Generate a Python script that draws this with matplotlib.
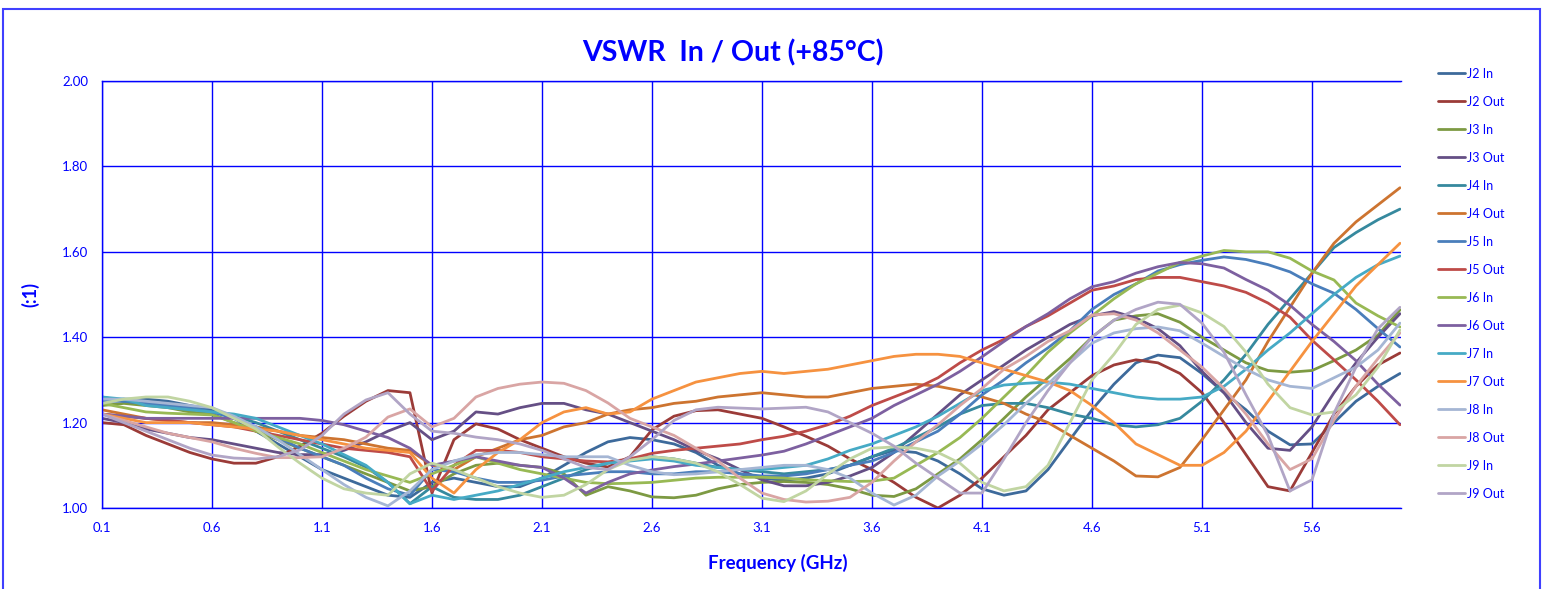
import numpy as np
import matplotlib
matplotlib.use('Agg')
import matplotlib.pyplot as plt
from matplotlib.patches import Rectangle

# Frecuencia (GHz), paso de 0.1
freq = np.round(np.arange(0.1, 6.05, 0.1), 1)

# Valores VSWR (60 puntos por serie)
j2_in = [1.25, 1.255, 1.255, 1.25, 1.24, 1.23, 1.21, 1.18, 1.15, 1.12,
         1.09, 1.07, 1.05, 1.03, 1.025, 1.06, 1.07, 1.06, 1.05, 1.05,
         1.07, 1.10, 1.13, 1.155, 1.165, 1.16, 1.15, 1.13, 1.10, 1.08,
         1.07, 1.065, 1.07, 1.08, 1.10, 1.12, 1.135, 1.13, 1.11, 1.08,
         1.045, 1.03, 1.04, 1.09, 1.16, 1.23, 1.29, 1.34, 1.358, 1.352,
         1.315, 1.27, 1.23, 1.18, 1.148, 1.15, 1.20, 1.25, 1.285, 1.315]
j2_out = [1.20, 1.195, 1.17, 1.15, 1.13, 1.115, 1.105, 1.105, 1.12, 1.145,
          1.175, 1.215, 1.25, 1.275, 1.27, 1.035, 1.16, 1.197, 1.185, 1.16,
          1.14, 1.12, 1.105, 1.096, 1.12, 1.183, 1.215, 1.228, 1.23, 1.22,
          1.21, 1.19, 1.168, 1.145, 1.115, 1.09, 1.06, 1.025, 1.0, 1.03,
          1.07, 1.12, 1.17, 1.23, 1.27, 1.31, 1.335, 1.347, 1.34, 1.315,
          1.27, 1.20, 1.125, 1.05, 1.04, 1.13, 1.22, 1.285, 1.335, 1.363]
j3_in = [1.24, 1.245, 1.24, 1.235, 1.225, 1.22, 1.20, 1.18, 1.16, 1.14,
         1.12, 1.10, 1.08, 1.06, 1.04, 1.05, 1.08, 1.10, 1.105, 1.10,
         1.095, 1.08, 1.03, 1.05, 1.04, 1.026, 1.024, 1.03, 1.045, 1.055,
         1.06, 1.062, 1.06, 1.055, 1.045, 1.03, 1.027, 1.045, 1.08, 1.115,
         1.16, 1.21, 1.26, 1.305, 1.35, 1.40, 1.44, 1.45, 1.455, 1.435,
         1.40, 1.37, 1.34, 1.322, 1.318, 1.322, 1.345, 1.37, 1.405, 1.464]
j3_out = [1.21, 1.20, 1.185, 1.175, 1.165, 1.16, 1.15, 1.14, 1.13, 1.125,
          1.125, 1.135, 1.155, 1.18, 1.20, 1.16, 1.18, 1.225, 1.22, 1.235,
          1.245, 1.245, 1.23, 1.22, 1.20, 1.18, 1.16, 1.135, 1.115, 1.09,
          1.066, 1.052, 1.052, 1.06, 1.075, 1.095, 1.13, 1.175, 1.22, 1.265,
          1.30, 1.335, 1.37, 1.40, 1.43, 1.45, 1.46, 1.445, 1.42, 1.38,
          1.32, 1.27, 1.20, 1.14, 1.135, 1.19, 1.27, 1.34, 1.40, 1.455]
j4_in = [1.26, 1.25, 1.245, 1.24, 1.235, 1.225, 1.215, 1.20, 1.18, 1.16,
         1.14, 1.12, 1.096, 1.06, 1.01, 1.05, 1.025, 1.02, 1.02, 1.03,
         1.05, 1.07, 1.09, 1.105, 1.115, 1.12, 1.115, 1.105, 1.095, 1.09,
         1.085, 1.08, 1.085, 1.09, 1.10, 1.12, 1.14, 1.165, 1.19, 1.22,
         1.24, 1.245, 1.245, 1.235, 1.22, 1.21, 1.195, 1.19, 1.195, 1.21,
         1.25, 1.30, 1.36, 1.43, 1.49, 1.55, 1.61, 1.645, 1.675, 1.70]
j4_out = [1.23, 1.22, 1.21, 1.205, 1.20, 1.20, 1.195, 1.19, 1.18, 1.17,
          1.165, 1.16, 1.15, 1.14, 1.135, 1.10, 1.09, 1.12, 1.14, 1.16,
          1.17, 1.19, 1.20, 1.22, 1.23, 1.235, 1.245, 1.25, 1.26, 1.265,
          1.27, 1.265, 1.26, 1.26, 1.27, 1.28, 1.285, 1.29, 1.285, 1.275,
          1.26, 1.245, 1.22, 1.20, 1.17, 1.14, 1.11, 1.075, 1.073, 1.095,
          1.16, 1.23, 1.30, 1.39, 1.47, 1.55, 1.62, 1.67, 1.71, 1.75]
j5_in = [1.25, 1.25, 1.245, 1.24, 1.235, 1.225, 1.21, 1.19, 1.165, 1.14,
         1.12, 1.10, 1.07, 1.045, 1.03, 1.09, 1.085, 1.07, 1.06, 1.06,
         1.065, 1.075, 1.08, 1.085, 1.085, 1.08, 1.08, 1.085, 1.085, 1.08,
         1.075, 1.075, 1.08, 1.09, 1.10, 1.11, 1.13, 1.155, 1.18, 1.22,
         1.265, 1.30, 1.34, 1.375, 1.415, 1.465, 1.50, 1.525, 1.555, 1.57,
         1.58, 1.588, 1.582, 1.57, 1.553, 1.525, 1.503, 1.465, 1.42, 1.377]
j5_out = [1.22, 1.215, 1.21, 1.205, 1.20, 1.195, 1.19, 1.18, 1.17, 1.16,
          1.15, 1.14, 1.135, 1.13, 1.12, 1.04, 1.10, 1.135, 1.135, 1.13,
          1.12, 1.115, 1.11, 1.108, 1.115, 1.128, 1.135, 1.14, 1.145, 1.15,
          1.16, 1.168, 1.18, 1.195, 1.215, 1.24, 1.26, 1.28, 1.305, 1.34,
          1.37, 1.395, 1.425, 1.45, 1.48, 1.51, 1.52, 1.535, 1.54, 1.54,
          1.53, 1.52, 1.505, 1.48, 1.447, 1.393, 1.347, 1.30, 1.25, 1.195]
j6_in = [1.245, 1.235, 1.225, 1.222, 1.22, 1.218, 1.20, 1.18, 1.165, 1.15,
         1.13, 1.11, 1.09, 1.075, 1.06, 1.08, 1.10, 1.12, 1.105, 1.09,
         1.08, 1.07, 1.06, 1.057, 1.058, 1.06, 1.065, 1.07, 1.072, 1.072,
         1.072, 1.07, 1.066, 1.064, 1.062, 1.063, 1.07, 1.10, 1.13, 1.165,
         1.21, 1.26, 1.31, 1.365, 1.41, 1.45, 1.49, 1.525, 1.55, 1.575,
         1.59, 1.603, 1.60, 1.60, 1.585, 1.555, 1.534, 1.48, 1.45, 1.424]
j6_out = [1.22, 1.215, 1.21, 1.21, 1.21, 1.21, 1.21, 1.21, 1.21, 1.21,
          1.205, 1.195, 1.18, 1.165, 1.14, 1.10, 1.11, 1.12, 1.11, 1.10,
          1.095, 1.07, 1.035, 1.06, 1.08, 1.089, 1.097, 1.103, 1.11, 1.117,
          1.124, 1.133, 1.15, 1.17, 1.19, 1.21, 1.24, 1.265, 1.29, 1.32,
          1.354, 1.39, 1.425, 1.455, 1.49, 1.518, 1.53, 1.55, 1.565, 1.575,
          1.572, 1.562, 1.535, 1.51, 1.475, 1.43, 1.39, 1.345, 1.29, 1.241]
j7_in = [1.26, 1.255, 1.24, 1.235, 1.23, 1.225, 1.22, 1.21, 1.19, 1.17,
         1.15, 1.125, 1.10, 1.06, 1.01, 1.03, 1.02, 1.03, 1.04, 1.055,
         1.07, 1.085, 1.095, 1.105, 1.11, 1.115, 1.11, 1.10, 1.095, 1.09,
         1.09, 1.095, 1.10, 1.115, 1.135, 1.15, 1.17, 1.19, 1.215, 1.245,
         1.275, 1.288, 1.292, 1.295, 1.29, 1.28, 1.27, 1.26, 1.255, 1.255,
         1.26, 1.285, 1.325, 1.37, 1.41, 1.455, 1.50, 1.54, 1.57, 1.59]
j7_out = [1.22, 1.21, 1.20, 1.20, 1.20, 1.195, 1.19, 1.185, 1.18, 1.17,
          1.16, 1.15, 1.14, 1.135, 1.13, 1.07, 1.035, 1.09, 1.13, 1.16,
          1.20, 1.225, 1.235, 1.22, 1.225, 1.255, 1.275, 1.295, 1.305, 1.315,
          1.32, 1.315, 1.32, 1.325, 1.335, 1.345, 1.355, 1.36, 1.36, 1.355,
          1.34, 1.325, 1.31, 1.295, 1.275, 1.24, 1.20, 1.15, 1.125, 1.10,
          1.10, 1.13, 1.18, 1.25, 1.32, 1.39, 1.455, 1.52, 1.57, 1.62]
j8_in = [1.255, 1.255, 1.25, 1.245, 1.24, 1.235, 1.215, 1.19, 1.16, 1.125,
         1.09, 1.055, 1.025, 1.005, 1.04, 1.09, 1.11, 1.125, 1.13, 1.13,
         1.125, 1.12, 1.12, 1.12, 1.10, 1.085, 1.078, 1.08, 1.085, 1.09,
         1.095, 1.10, 1.10, 1.09, 1.07, 1.035, 1.007, 1.03, 1.075, 1.11,
         1.15, 1.195, 1.245, 1.29, 1.34, 1.386, 1.41, 1.42, 1.424, 1.415,
         1.386, 1.355, 1.325, 1.30, 1.285, 1.28, 1.305, 1.33, 1.37, 1.433]
j8_out = [1.22, 1.205, 1.19, 1.175, 1.165, 1.155, 1.14, 1.128, 1.118, 1.118,
          1.12, 1.14, 1.166, 1.213, 1.232, 1.19, 1.21, 1.26, 1.28, 1.29,
          1.295, 1.292, 1.275, 1.246, 1.21, 1.19, 1.17, 1.14, 1.11, 1.07,
          1.035, 1.02, 1.014, 1.016, 1.025, 1.06, 1.11, 1.155, 1.195, 1.24,
          1.28, 1.325, 1.355, 1.39, 1.415, 1.452, 1.455, 1.44, 1.41, 1.37,
          1.33, 1.28, 1.22, 1.15, 1.09, 1.115, 1.206, 1.285, 1.35, 1.41]
j9_in = [1.245, 1.255, 1.26, 1.26, 1.25, 1.235, 1.21, 1.185, 1.143, 1.105,
         1.07, 1.045, 1.035, 1.03, 1.08, 1.105, 1.09, 1.07, 1.05, 1.035,
         1.025, 1.03, 1.055, 1.09, 1.112, 1.12, 1.115, 1.105, 1.085, 1.055,
         1.023, 1.015, 1.04, 1.08, 1.115, 1.14, 1.143, 1.14, 1.13, 1.105,
         1.06, 1.04, 1.05, 1.10, 1.20, 1.30, 1.36, 1.43, 1.465, 1.475,
         1.457, 1.425, 1.365, 1.29, 1.235, 1.218, 1.225, 1.265, 1.33, 1.417]
j9_out = [1.22, 1.20, 1.18, 1.16, 1.14, 1.124, 1.117, 1.115, 1.12, 1.136,
          1.17, 1.22, 1.253, 1.27, 1.22, 1.18, 1.175, 1.166, 1.16, 1.15,
          1.135, 1.115, 1.095, 1.09, 1.12, 1.16, 1.205, 1.23, 1.236, 1.234,
          1.232, 1.234, 1.236, 1.225, 1.20, 1.175, 1.145, 1.105, 1.07, 1.035,
          1.035, 1.115, 1.20, 1.275, 1.34, 1.40, 1.44, 1.465, 1.482, 1.477,
          1.433, 1.365, 1.265, 1.17, 1.04, 1.066, 1.222, 1.33, 1.42, 1.47]

series = [('J2 In', j2_in, '#3D6A9B'), ('J2 Out', j2_out, '#9B3B38'),
          ('J3 In', j3_in, '#7D9A43'), ('J3 Out', j3_out, '#654F85'),
          ('J4 In', j4_in, '#36899E'), ('J4 Out', j4_out, '#CD7430'),
          ('J5 In', j5_in, '#4A7EBB'), ('J5 Out', j5_out, '#BE4B48'),
          ('J6 In', j6_in, '#98B954'), ('J6 Out', j6_out, '#7D60A0'),
          ('J7 In', j7_in, '#46AAC5'), ('J7 Out', j7_out, '#F69240'),
          ('J8 In', j8_in, '#A5B6D4'), ('J8 Out', j8_out, '#D9A5A4'),
          ('J9 In', j9_in, '#C1D5A2'), ('J9 Out', j9_out, '#B1A5C6')]

azul = '#0000FF'
plt.rcParams['font.family'] = ['Lato', 'DejaVu Sans']

fig = plt.figure(figsize=(15.54, 5.89), dpi=100)
ax = fig.add_axes([0.0656, 0.1375, 0.836, 0.725])

for nombre, valores, color in series:
    ax.plot(freq, valores, color=color, lw=2.0, label=nombre, solid_capstyle='round')

ax.set_xlim(0.1, 6.005)
ax.set_ylim(1.0, 2.0)
ax.set_xticks(np.arange(0.1, 5.7, 0.5))
ax.set_xticklabels(['%.1f' % v for v in np.arange(0.1, 5.7, 0.5)])
ax.set_yticks(np.arange(1.0, 2.01, 0.2))
ax.set_yticklabels(['%.2f' % v for v in np.arange(1.0, 2.01, 0.2)])
ax.grid(True, color=azul, lw=1.0)
ax.set_axisbelow(True)
ax.tick_params(length=0, colors=azul, labelsize=9.5, pad=10)
for lado in ['left', 'bottom', 'top']:
    ax.spines[lado].set_color(azul)
    ax.spines[lado].set_linewidth(1.0)
ax.spines['right'].set_visible(False)

# Titulos de ejes y grafico (posicion fija como en el original)
fig.text(0.5005, 0.044, 'Frequency (GHz)', color=azul, fontsize=13.5,
         fontweight='bold', ha='center', va='center')
fig.text(0.0195, 0.50, '(:1)', color=azul, fontsize=13, fontweight='bold',
         rotation=90, ha='center', va='center')
fig.text(0.4717, 0.91, 'VSWR  In / Out (+85°C)', color=azul, fontsize=20.5,
         fontweight='bold', ha='center', va='center')

# Leyenda a la derecha
fig.legend(loc='upper left', bbox_to_anchor=(0.918, 0.904), frameon=False,
           fontsize=9, labelcolor=azul, handlelength=2.2, handletextpad=0.15,
           labelspacing=1.28)

# Marco exterior azul
fig.patches.append(Rectangle((0.002, -0.01), 0.989, 0.995, transform=fig.transFigure,
                             fill=False, edgecolor='#4040FF', lw=1.5))

fig.savefig('out.png', dpi=100)
